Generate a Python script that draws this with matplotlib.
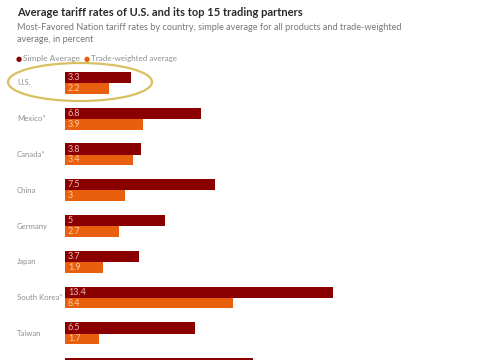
import matplotlib.pyplot as plt
from matplotlib.patches import Ellipse
import numpy as np

countries = ["U.S.", "Mexico*", "Canada*", "China", "Germany", "Japan",
             "South Korea*", "Taiwan", "Vietnam"]
simple_avg = [3.3, 6.8, 3.8, 7.5, 5, 3.7, 13.4, 6.5, 9.4]
trade_weighted = [2.2, 3.9, 3.4, 3, 2.7, 1.9, 8.4, 1.7, 5.1]
simple_lbl = ["3.3", "6.8", "3.8", "7.5", "5", "3.7", "13.4", "6.5", "9.4"]
weighted_lbl = ["2.2", "3.9", "3.4", "3", "2.7", "1.9", "8.4", "1.7", "5.1"]

DARK = "#8a0000"
ORANGE = "#e8600e"
GRAY = "#8f8f8f"

plt.rcParams['font.family'] = ['Lato', 'DejaVu Sans']

W, H = 485, 360
fig = plt.figure(figsize=(W / 100, H / 100), dpi=100)


def fit(txt, width_px):
    # shrink/grow font so the text spans about width_px
    fig.canvas.draw()
    r = fig.canvas.get_renderer()
    w = txt.get_window_extent(r).width
    txt.set_fontsize(txt.get_fontsize() * width_px / w)


# axes: bars start at x=65px, 20 px per unit
ax = fig.add_axes([65 / W, 0, 420 / W, (360 - 66) / H])
ax.set_xlim(0, 21)
ax.set_ylim(7.74, -0.475)
ax.axis("off")

y = np.arange(len(countries))
h1, h2 = 0.31, 0.30
ax.barh(y - h1 / 2, simple_avg, height=h1, color=DARK)
ax.barh(y + h2 / 2, trade_weighted, height=h2, color=ORANGE)

for i in range(len(countries) - 1):
    ax.text(0.15, y[i] - h1 / 2, simple_lbl[i], color="#f0b8b8", fontsize=6.5,
            va="center", ha="left")
    ax.text(0.15, y[i] + h2 / 2, weighted_lbl[i], color="#ffc89a", fontsize=6.5,
            va="center", ha="left")
    ax.text(-2.4, y[i], countries[i], color=GRAY, fontsize=5.6,
            va="center", ha="left", clip_on=False)

# title, subtitle, legend
t = fig.text(17 / W, 1 - 12 / H, "Average tariff rates of U.S. and its top 15 trading partners",
             fontsize=8, fontweight="bold", color="#2a2a2a", va="center", ha="left")
fit(t, 287)
s = fig.text(17 / W, 1 - 27 / H,
             "Most-Favored Nation tariff rates by country, simple average for all products and trade-weighted",
             fontsize=6.3, color="#777777", va="center", ha="left")
fit(s, 383)
fig.text(17 / W, 1 - 40 / H, "average, in percent",
         fontsize=s.get_fontsize(), color="#777777", va="center", ha="left")

fig.text(16 / W, 1 - 59 / H, "\u25cf", color=DARK, fontsize=5, va="center", ha="left",
         family="DejaVu Sans")
l1 = fig.text(23 / W, 1 - 59 / H, "Simple Average", color=GRAY, fontsize=5.8,
              va="center", ha="left")
fit(l1, 57)
fig.text(84 / W, 1 - 59 / H, "\u25cf", color=ORANGE, fontsize=5, va="center", ha="left",
         family="DejaVu Sans")
l2 = fig.text(91 / W, 1 - 59 / H, "Trade-weighted average", color=GRAY, fontsize=5.8,
              va="center", ha="left")
fit(l2, 86)

# highlight ellipse around U.S.
ell = Ellipse((80 / W, 1 - 82 / H), 144 / W, 38 / H, transform=fig.transFigure,
              fill=False, edgecolor="#d8c060", linewidth=1.6)
fig.patches.append(ell)

fig.savefig("out.png", dpi=100)
